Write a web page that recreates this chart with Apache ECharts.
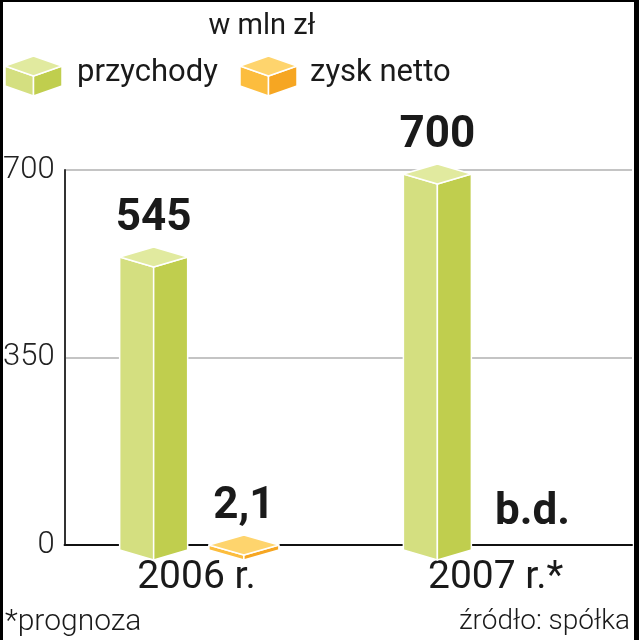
<!DOCTYPE html>
<html>
<head>
<meta charset="utf-8">
<script src="https://cdn.jsdelivr.net/npm/echarts@6/dist/echarts.min.js"></script>
<style>
html,body{margin:0;padding:0;background:#fff;}
#chart{width:639px;height:640px;}
</style>
</head>
<body>
<div id="chart"></div>
<script>
// ---- data ----
const categories = ['2006 r.', '2007 r.*'];
const revenue = [545, 700];          // przychody
const netProfit = [2.1, null];       // zysk netto (null = b.d.)
const yTicks = [0, 350, 700];
const seriesNames = ['przychody', 'zysk netto'];
const titleText = 'w mln zł';
const noteText = '*prognoza';
const sourceText = 'źródło: spółka';
const missingText = 'b.d.';

const FONT = 'Roboto, "Open Sans", sans-serif';
const green = {top: '#e1ea9f', left: '#d4df80', right: '#c0ce4e'};
const orange = {top: '#fed46d', left: '#fcbd3e', right: '#f6a622'};

function fmt(v) { return String(v).replace('.', ','); }

function boxShapes(cx, top, bottom, hw, d, col) {
  const st = {stroke: '#ffffff', lineWidth: 1.5, lineJoin: 'round'};
  return [
    {type: 'polygon', shape: {points: [[cx - hw, top], [cx, top + d], [cx, bottom + d], [cx - hw, bottom]]},
     style: Object.assign({fill: col.left}, st)},
    {type: 'polygon', shape: {points: [[cx, top + d], [cx + hw, top], [cx + hw, bottom], [cx, bottom + d]]},
     style: Object.assign({fill: col.right}, st)},
    {type: 'polygon', shape: {points: [[cx - hw, top], [cx, top - d], [cx + hw, top], [cx, top + d]]},
     style: Object.assign({fill: col.top}, st)}
  ];
}

function makeRenderer(values, opts) {
  return function (params, api) {
    const i = api.value(0);
    const v = values[params.dataIndex];
    const band = api.size([1, 0])[0];
    const c0 = api.coord([i, 0]);
    const cx = c0[0] + band * opts.offset;
    const base = c0[1] + 5;
    const children = [];
    const font = 'bold 44px ' + FONT;
    if (v == null) {
      children.push({type: 'text', style: {text: missingText, x: cx + 5, y: base - 37, font: font,
        fill: '#1a1a1a', align: 'center', verticalAlign: 'middle'}});
    } else {
      const top = Math.min(api.coord([i, v])[1] + 4, base - opts.minH);
      boxShapes(cx, top, base, opts.hw, opts.d, opts.col).forEach(s => children.push(s));
      children.push({type: 'text', style: {text: fmt(v), x: cx, y: top - opts.d - 28, font: font,
        fill: '#1a1a1a', align: 'center', verticalAlign: 'middle'}});
    }
    return {type: 'group', children: children};
  };
}

function legendIcon(cx, col) {
  return {type: 'group', children: boxShapes(cx, 66, 86, 28.5, 10, col)};
}

const chart = echarts.init(document.getElementById('chart'), null, {renderer: 'canvas'});
const option = {
  backgroundColor: '#ffffff',
  animation: false,
  grid: {left: 62, right: 7, top: 170, bottom: 95},
  xAxis: {
    type: 'category',
    data: categories.map((c, i) => ({value: c, textStyle: {padding: i === 0 ? [0, 20, 0, 0] : [0, 0, 0, 11]}})),
    axisLine: {show: true, lineStyle: {color: '#111', width: 2}},
    axisTick: {show: false},
    axisLabel: {fontFamily: FONT, fontSize: 39, color: '#1a1a1a', margin: 14}
  },
  yAxis: {
    type: 'value', min: yTicks[0], max: yTicks[yTicks.length - 1], interval: yTicks[1] - yTicks[0],
    axisLine: {show: true, lineStyle: {color: '#333', width: 2}},
    axisTick: {show: false},
    splitLine: {lineStyle: {color: '#c4c4c4', width: 2}},
    axisLabel: {fontFamily: FONT, fontSize: 31, fontWeight: 300, color: '#222', margin: 10}
  },
  series: [
    {name: seriesNames[0], type: 'custom', data: revenue.map((v, i) => [i, v]),
     encode: {x: 0, y: 1}, clip: false, z: 5,
     renderItem: makeRenderer(revenue, {offset: -0.186, hw: 34, d: 10, minH: 5, col: green})},
    {name: seriesNames[1], type: 'custom', data: netProfit.map((v, i) => [i, v == null ? 0 : v]),
     encode: {x: 0, y: 1}, clip: false, z: 5,
     renderItem: makeRenderer(netProfit, {offset: 0.132, hw: 35, d: 10, minH: 5, col: orange})}
  ],
  graphic: [
    {type: 'text', style: {text: titleText, x: 262, y: 27, font: '29px ' + FONT, fill: '#1a1a1a',
      align: 'center', verticalAlign: 'middle'}},
    legendIcon(33.5, green),
    {type: 'text', style: {text: seriesNames[0], x: 77, y: 73, font: '31px ' + FONT, fill: '#1a1a1a',
      align: 'left', verticalAlign: 'middle'}},
    legendIcon(268.5, orange),
    {type: 'text', style: {text: seriesNames[1], x: 310, y: 73, font: '31px ' + FONT, fill: '#1a1a1a',
      align: 'left', verticalAlign: 'middle'}},
    {type: 'text', style: {text: noteText, x: 5, y: 622, font: '300 30px ' + FONT, fill: '#1a1a1a',
      align: 'left', verticalAlign: 'middle'}},
    {type: 'text', style: {text: sourceText, x: 630, y: 622, font: '300 28px ' + FONT, fill: '#1a1a1a',
      align: 'right', verticalAlign: 'middle'}},
    {type: 'rect', shape: {x: 0, y: 0, width: 3, height: 640}, style: {fill: '#000'}},
    {type: 'rect', shape: {x: 0, y: 0, width: 639, height: 2}, style: {fill: '#000'}},
    {type: 'rect', shape: {x: 634, y: 0, width: 5, height: 640}, style: {fill: '#000'}}
  ]
};
chart.setOption(option);
</script>
</body>
</html>
